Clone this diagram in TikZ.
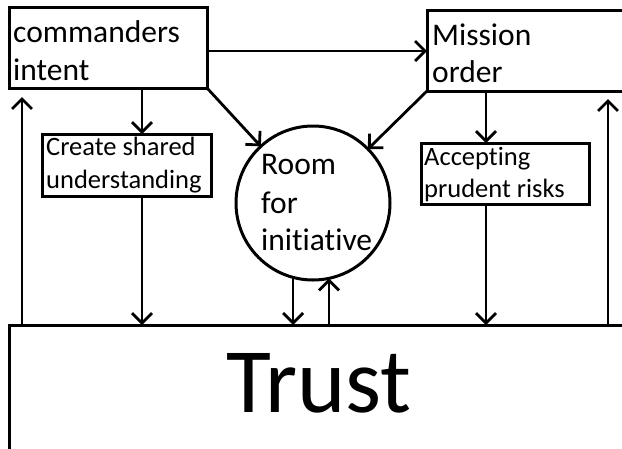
\documentclass[tikz,border=0pt]{standalone}
\usepackage{fontspec}
\setmainfont{Carlito}[Ligatures=NoCommon]
\usetikzlibrary{arrows.meta}
\begin{document}
\begin{tikzpicture}[x=1pt,y=-1pt,
  box/.style={draw, line width=3pt, inner sep=0pt, outer sep=0pt},
  arr/.style={line width=2.8pt, -{Straight Barb[length=10pt,width=20pt]}},
  big/.style={font=\fontsize{31.5}{36}\selectfont, inner sep=0pt, anchor=base west},
  small/.style={font=\fontsize{26.5}{31}\selectfont, inner sep=0pt, anchor=base west}]
\useasboundingbox (0,0) rectangle (622,448);
\begin{scope}
\clip (0,0) rectangle (622,448);
% boxes
\node[box, minimum width=198pt, minimum height=81pt] (ci) at (108,47.5) {};
\node[box, minimum width=203pt, minimum height=81pt] (mo) at (528.5,50.5) {};
\node[box, minimum width=169pt, minimum height=62pt] (csu) at (126.5,165) {};
\node[box, minimum width=168pt, minimum height=61pt] (apr) at (505,173.5) {};
\node[box, circle, minimum size=154pt] (room) at (313,203) {};
\node[box, minimum width=623pt, minimum height=135pt] (trust) at (320.5,392.5) {};
% texts
\node[big] (t1) at (13,42) {commanders};
\node[big] (t2) at (13,80) {intent};
\node[big] (t3) at (432,45) {Mission};
\node[big] (t4) at (432,82) {order};
\node[small] (t5) at (46,155) {Create shared};
\node[small] (t6) at (46,188) {understanding};
\node[small] (t7) at (424,165) {Accepting};
\node[small] (t8) at (424,197) {prudent risks};
\node[big] (t9) at (261,174) {Room};
\node[big] (t10) at (261,213) {for};
\node[big] (t11) at (261,250) {initiative};
\node[font=\fontsize{92}{100}\selectfont, inner sep=0pt, anchor=base] (t12) at (319,412) {Trust};
% helper x positions
\coordinate (xl) at (22,0);
\coordinate (xa) at (142,0);
\coordinate (xb) at (486,0);
\coordinate (xr) at (608,0);
% connectors
\draw[arr] ([yshift=-3.5pt]ci.east) -- ([yshift=-3.5pt]ci.east -| mo.west);
\draw[arr] (ci.south -| xa) -- (csu.north -| xa);
\draw[arr] (csu.south -| xa) -- (trust.north -| xa);
\draw[arr] (ci.south east) -- (room);
\draw[arr] (mo.south west) -- (room);
\draw[arr] (mo.south -| xb) -- (apr.north -| xb);
\draw[arr] (apr.south -| xb) -- (trust.north -| xb);
\draw[arr] (room.-105) -- (room.-105 |- trust.north);
\draw[arr] (room.-78 |- trust.north) -- (room.-78);
\draw[arr] (trust.north -| xl) -- ([yshift=-9pt]ci.south -| xl);
\draw[arr] (trust.north -| xr) -- ([yshift=-8pt]mo.south -| xr);
\end{scope}
\end{tikzpicture}
\end{document}
